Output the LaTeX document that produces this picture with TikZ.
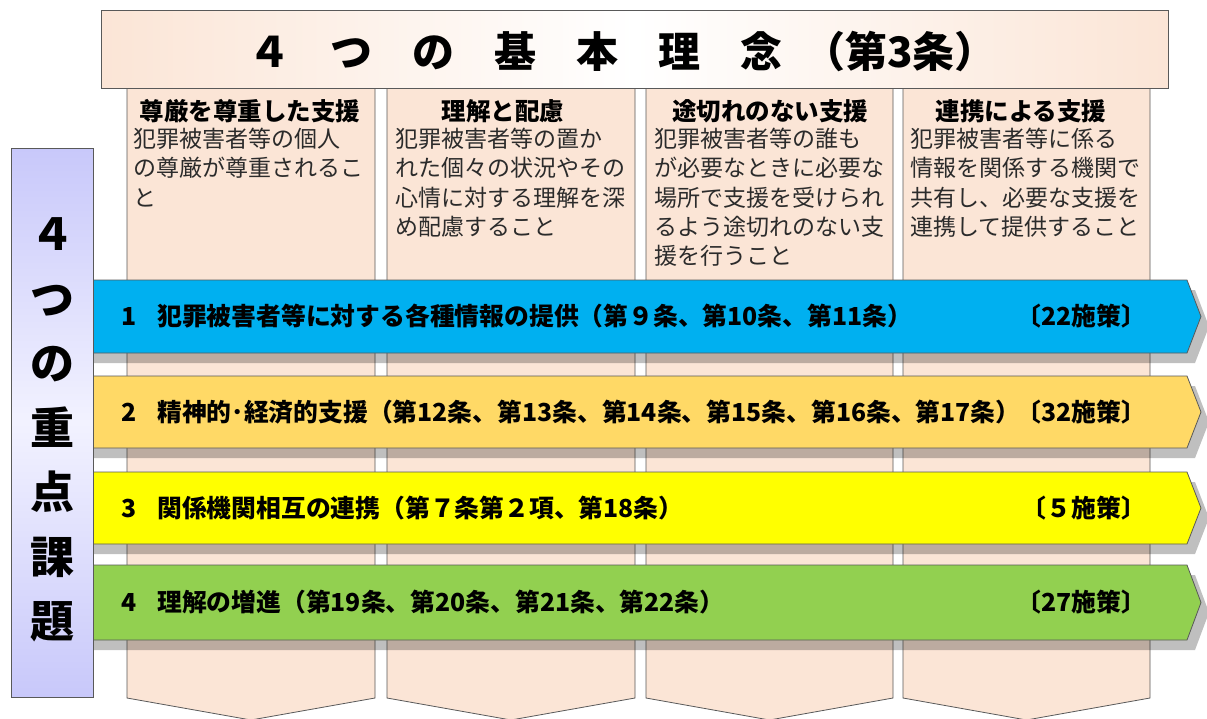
\documentclass[tikz,border=0pt]{standalone}
\usepackage{fontspec}
\newfontfamily\jp{Noto Sans CJK JP}
\definecolor{peach}{HTML}{FBE5D6}
\definecolor{bordergray}{HTML}{595959}
\definecolor{bodytext}{HTML}{2B2B2B}
\definecolor{lav}{HTML}{C8C8FA}
\definecolor{lavlight}{HTML}{F2F2FF}
\definecolor{rowblue}{HTML}{00B0F0}
\definecolor{rowgold}{HTML}{FFD966}
\definecolor{rowyellow}{HTML}{FFFF00}
\definecolor{rowgreen}{HTML}{92D050}
\tikzset{
  colbox/.style={draw=bordergray, fill=peach, line width=0.8pt},
  hdr/.style={font=\jp\bfseries\fontsize{24.5}{29}\selectfont, inner sep=0pt, anchor=center},
  bodytxt/.style={font=\jp\fontsize{23}{29.3}\selectfont, text=bodytext, inner sep=0pt, anchor=north west, align=left},
  rowbox/.style={draw=bordergray, line width=0.8pt},
  shadowbox/.style={fill=black, opacity=0.25},
  rowtext/.style={font=\jp\bfseries\fontsize{24.8}{29}\selectfont, inner sep=0pt},
}
\begin{document}
\begin{tikzpicture}[x=1pt,y=-1pt]
\useasboundingbox (0,0) rectangle (1207,718);
\fill[white] (0,0) rectangle (1207,718);
% columns
\draw[colbox] (127,88) -- (375,88) -- (375,698) -- (251,720) -- (127,698) -- cycle;
\draw[colbox] (387,88) -- (635,88) -- (635,698) -- (511,720) -- (387,698) -- cycle;
\draw[colbox] (646,88) -- (893,88) -- (893,698) -- (769.5,720) -- (646,698) -- cycle;
\draw[colbox] (903,88) -- (1150,88) -- (1150,698) -- (1026.5,720) -- (903,698) -- cycle;
% title bar
\path[draw=bordergray, line width=0.8pt, left color=peach, right color=peach, middle color=white] (101,10) rectangle (1168,88);
\node[font=\jp\bfseries\fontsize{42}{48}\selectfont, inner sep=0pt, anchor=west] (title) at (248,51)
  {４\hspace{40pt}つ\hspace{40pt}の\hspace{40pt}基\hspace{40pt}本\hspace{40pt}理\hspace{40pt}念\hspace{21pt}（第3条）};
% column texts
\node[hdr] (h1) at (250,111) {尊厳を尊重した支援};
\node[hdr] (h2) at (503,111) {理解と配慮};
\node[hdr] (h3) at (770,111) {途切れのない支援};
\node[hdr] (h4) at (1021,111) {連携による支援};
\node[bodytxt] (b1) at (133,128) {犯罪被害者等の個人\\の尊厳が尊重されるこ\\と};
\node[bodytxt] (b2) at (395,128) {犯罪被害者等の置か\\れた個々の状況やその\\心情に対する理解を深\\め配慮すること};
\node[bodytxt] (b3) at (654,128) {犯罪被害者等の誰も\\が必要なときに必要な\\場所で支援を受けられ\\るよう途切れのない支\\援を行うこと};
\node[bodytxt] (b4) at (910,128) {犯罪被害者等に係る\\情報を関係する機関で\\共有し、必要な支援を\\連携して提供すること};
% rows
\foreach \ya/\yb/\c in {280/353/rowblue, 376/448/rowgold, 472/544/rowyellow, 565/640/rowgreen}{
  \fill[shadowbox] (93,{\ya+10}) -- (1195,{\ya+10}) -- (1209,{(\ya+\yb)/2+10}) -- (1195,{\yb+10}) -- (93,{\yb+10}) -- cycle;
  \draw[rowbox, fill=\c] (93,\ya) -- (1187,\ya) -- (1201,{(\ya+\yb)/2}) -- (1187,\yb) -- (93,\yb) -- cycle;
}
\node[rowtext] (n1) at (129,316.5) {1};
\node[rowtext, anchor=west] (t1) at (157,316.5) {犯罪被害者等に対する各種情報の提供（第９条、第10条、第11条）};
\node[rowtext, anchor=east] (p1) at (1146,316.5) {〔22施策〕};
\node[rowtext] (n2) at (129,412) {2};
\node[rowtext, anchor=west] (t2) at (157,412) {精神的･経済的支援（第12条、第13条、第14条、第15条、第16条、第17条）};
\node[rowtext, anchor=east] (p2) at (1146,412) {〔32施策〕};
\node[rowtext] (n3) at (129,508) {3};
\node[rowtext, anchor=west] (t3) at (157,508) {関係機関相互の連携（第７条第２項、第18条）};
\node[rowtext, anchor=east] (p3) at (1146,508) {〔５施策〕};
\node[rowtext] (n4) at (129,602.5) {4};
\node[rowtext, anchor=west] (t4) at (157,602.5) {理解の増進（第19条、第20条、第21条、第22条）};
\node[rowtext, anchor=east] (p4) at (1146,602.5) {〔27施策〕};
% left bar
\path[draw=bordergray, line width=0.8pt, top color=lav, bottom color=lav, middle color=lavlight] (11,148) rectangle (93,697);
\node[font=\jp\bfseries\fontsize{44}{64.5}\selectfont, inner sep=0pt, align=center] (side) at (52,430) {４\\つ\\の\\重\\点\\課\\題};
\end{tikzpicture}
\end{document}
